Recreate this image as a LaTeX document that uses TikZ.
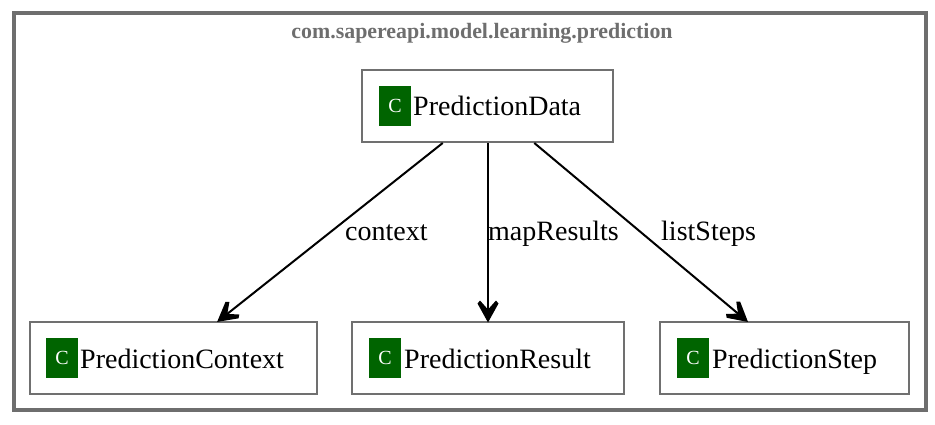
\documentclass[tikz,border=0pt]{standalone}
\usepackage{fontspec}
\setmainfont{Liberation Serif}
\usetikzlibrary{arrows.meta,calc}
\definecolor{framegray}{HTML}{6E6E6E}
\definecolor{boxgray}{HTML}{707070}
\definecolor{icongreen}{HTML}{006400}
\pgfdeclarearrow{
  name=VeeHead,
  setup code={
    \pgfarrowssettipend{0pt}
    \pgfarrowssetlineend{-12pt}
    \pgfarrowssetbackend{-22pt}
    \pgfarrowssetvisualbackend{-12pt}
    \pgfarrowshullpoint{0pt}{0pt}
    \pgfarrowsupperhullpoint{-22pt}{10.5pt}
  },
  drawing code={
    \pgfpathmoveto{\pgfqpoint{0pt}{0pt}}
    \pgfpathlineto{\pgfqpoint{-19pt}{10.5pt}}
    \pgfpathlineto{\pgfqpoint{-22pt}{8pt}}
    \pgfpathlineto{\pgfqpoint{-13pt}{0pt}}
    \pgfpathlineto{\pgfqpoint{-22pt}{-8pt}}
    \pgfpathlineto{\pgfqpoint{-19pt}{-10.5pt}}
    \pgfpathclose
    \pgfusepathqfill
  }
}
\tikzset{
  box/.style={draw=boxgray,line width=2pt,fill=white,inner sep=0pt,minimum height=72pt},
  icon/.style={fill=icongreen,draw=none,inner sep=0pt,minimum width=32pt,minimum height=40pt,text=white,font=\fontsize{20}{20}\selectfont},
  classname/.style={inner sep=0pt,anchor=base west,font=\fontsize{28}{28}\selectfont},
  edgelabel/.style={inner sep=0pt,anchor=base west,font=\fontsize{28}{28}\selectfont},
  link/.style={draw=black,line width=2pt,shorten >=-1.5pt,-{VeeHead}},
}
\begin{document}
\begin{tikzpicture}[x=1pt,y=-1pt]
\useasboundingbox (0,0) rectangle (935,424);
\node[draw=framegray,line width=4pt,minimum width=912pt,minimum height=397pt,inner sep=0pt] (frame) at (470,211.5) {};
\node[text=framegray,inner sep=0pt,font=\bfseries\fontsize{21.9}{22}\selectfont] (title) at (482,33) {com.sapereapi.model.learning.prediction};
\node[box,minimum width=251pt] (data) at (487.5,106) {};
\node[box,minimum width=287pt] (context) at (173.5,358) {};
\node[box,minimum width=272pt] (result) at (488,358) {};
\node[box,minimum width=249pt] (step) at (784.5,358) {};
\node[icon] (icondata) at (395,106) {C};
\node[icon] (iconcontext) at (62,358) {C};
\node[icon] (iconresult) at (385,358) {C};
\node[icon] (iconstep) at (693,358) {C};
\node[classname] (namedata) at (413,115.5) {PredictionData};
\node[classname] (namecontext) at (80,368) {PredictionContext};
\node[classname] (nameresult) at (404,368) {PredictionResult};
\node[classname] (namestep) at (712,368) {PredictionStep};
\draw[link] ($(data.south west)!0.323!(data.south east)$) -- ($(context.north west)!0.655!(context.north east)$);
\draw[link] (data.south -| result.north) -- (result.north);
\draw[link] ($(data.south west)!0.685!(data.south east)$) -- ($(step.north west)!0.35!(step.north east)$);
\node[edgelabel] (lcontext) at (345,240.5) {context};
\node[edgelabel] (lresult) at (488,240.5) {mapResults};
\node[edgelabel] (lstep) at (661,240.5) {listSteps};
\end{tikzpicture}
\end{document}
